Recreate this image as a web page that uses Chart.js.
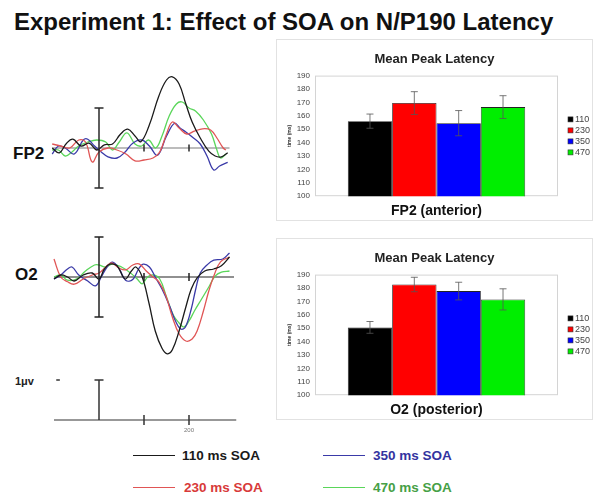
<!DOCTYPE html>
<html>
<head>
<meta charset="utf-8">
<script src="https://cdn.jsdelivr.net/npm/chart.js@4.4.1/dist/chart.umd.min.js"></script>
<style>
  html, body { margin: 0; padding: 0; background: #fff; }
  #page { position: relative; width: 600px; height: 500px; overflow: hidden; font-family: Arial, "Liberation Sans", sans-serif; }
  .abs { position: absolute; }
  .txt { position: absolute; white-space: nowrap; line-height: 1; }
  .panel { position: absolute; border: 1px solid #e2e2e2; box-sizing: border-box; }
  .panel canvas { position: absolute; left: 0; top: 0; }
  .key { position: absolute; height: 0; width: 42px; border-top: 1.5px solid; }
  .keytxt { position: absolute; white-space: nowrap; line-height: 1; font-size: 13.5px; font-weight: bold; }
</style>
</head>
<body>
<div id="page">
  <div class="txt" style="left:14px;top:10px;font-size:24px;font-weight:bold;color:#111">Experiment 1: Effect of SOA on N/P190 Latency</div>

  <div class="txt" style="left:13px;top:145px;font-size:17px;font-weight:bold;color:#111">FP2</div>
  <div class="txt" style="left:15px;top:266px;font-size:17px;font-weight:bold;color:#111">O2</div>
  <div class="txt" style="left:15px;top:376px;font-size:11px;font-weight:bold;color:#222">1μv</div>

  <canvas id="erpFp2" class="abs" style="left:45px;top:68px" width="198" height="140"></canvas>
  <canvas id="erpO2" class="abs" style="left:45px;top:217px" width="198" height="152"></canvas>
  <canvas id="erpScale" class="abs" style="left:45px;top:370px" width="198" height="70"></canvas>

  <div class="panel" style="left:276px;top:39px;width:317px;height:182px">
    <canvas id="barFp2" width="315" height="180"></canvas>
  </div>
  <div class="panel" style="left:276px;top:238px;width:317px;height:182px">
    <canvas id="barO2" width="315" height="180"></canvas>
  </div>

  <div class="key" style="left:133px;top:455px;border-color:#1a1a1a"></div>
  <div class="keytxt" style="left:182px;top:449px;color:#1a1a1a">110 ms SOA</div>
  <div class="key" style="left:323px;top:455px;border-color:#3a3aa8"></div>
  <div class="keytxt" style="left:373px;top:449px;color:#3333a0">350 ms SOA</div>
  <div class="key" style="left:133px;top:487px;border-color:#e05555"></div>
  <div class="keytxt" style="left:184px;top:481px;color:#d83a3a">230 ms SOA</div>
  <div class="key" style="left:323px;top:487px;border-color:#5ad65a"></div>
  <div class="keytxt" style="left:373px;top:481px;color:#46a046">470 ms SOA</div>
</div>

<script>
const soaLabels = ['110', '230', '350', '470'];
const barColors = ['#000000', '#ff0000', '#0000ff', '#00ee00'];
const waveColors = ['#1a1a1a', '#e05555', '#3a3aa8', '#5ad65a'];

// mean peak latency (ms) and error bar half-lengths
const fp2Means = [156, 169.5, 154.5, 166.5];
const fp2Errors = [5.3, 8.5, 9.4, 8.5];
const o2Means = [150.6, 182.6, 177.7, 171.5];
const o2Errors = [4.4, 5.4, 6.6, 7.9];
const latencyTicks = [100, 110, 120, 130, 140, 150, 160, 170, 180, 190];

// ERP waveforms: [time ms, amplitude µV]
const fp2_110 = [[-104, 0.0], [-88, -0.12], [-72, 0.12], [-58, 0.22], [-40, 0.05], [-22, 0.12], [-5, -0.05], [12, 0.08], [30, 0.1], [48, 0.35], [64, 0.47], [80, 0.3], [93, 0.16], [111, 0.55], [133, 1.3], [150, 1.7], [163, 1.78], [178, 1.6], [193, 1.1], [207, 0.65], [225, 0.25], [244, -0.08], [258, -0.2], [272, -0.22], [286, -0.12]];
const fp2_230 = [[-104, 0.1], [-85, 0.05], [-65, 0.0], [-45, 0.2], [-30, 0.15], [-15, -0.35], [0, -0.1], [20, 0.0], [40, -0.05], [60, -0.15], [80, -0.32], [100, -0.3], [120, -0.25], [135, -0.1], [150, 0.35], [163, 0.65], [178, 0.5], [195, 0.35], [212, 0.42], [230, 0.48], [248, 0.45], [262, 0.25], [276, 0.0], [282, -0.05]];
const fp2_350 = [[-104, -0.15], [-90, 0.05], [-75, 0.0], [-55, -0.15], [-35, 0.2], [-25, 0.22], [-10, 0.05], [5, -0.1], [20, -0.22], [40, -0.25], [58, -0.1], [75, 0.12], [95, 0.2], [112, 0.05], [130, -0.18], [150, 0.3], [168, 0.62], [180, 0.5], [193, 0.4], [210, 0.25], [225, 0.1], [240, -0.2], [255, -0.55], [268, -0.45], [286, -0.36]];
const fp2_470 = [[-104, -0.05], [-90, -0.05], [-75, -0.2], [-60, -0.1], [-45, 0.05], [-25, 0.15], [-5, 0.2], [15, 0.15], [30, -0.05], [45, 0.15], [62, 0.38], [80, 0.1], [95, 0.05], [110, 0.2], [126, 0.0], [140, 0.3], [156, 0.8], [172, 1.1], [185, 1.15], [200, 1.0], [215, 0.92], [232, 0.7], [250, 0.35], [262, -0.05], [270, -0.25], [282, -0.15]];

const o2_110 = [[-100, -0.05], [-85, 0.05], [-70, 0.0], [-55, -0.1], [-35, 0.05], [-15, 0.1], [0, -0.05], [12, 0.2], [24, 0.32], [40, 0.28], [58, -0.05], [72, 0.15], [82, 0.25], [96, 0.0], [111, -0.65], [125, -1.35], [140, -1.78], [152, -1.92], [163, -1.82], [178, -1.35], [193, -0.75], [205, -0.3], [218, -0.02], [235, 0.15], [255, 0.2], [272, 0.28], [290, 0.5]];
const o2_230 = [[-100, 0.45], [-85, 0.0], [-70, -0.12], [-55, -0.18], [-35, -0.05], [-15, 0.05], [0, 0.1], [15, 0.25], [28, 0.35], [45, 0.22], [60, 0.18], [75, 0.3], [89, 0.33], [105, 0.15], [120, 0.0], [133, -0.12], [148, -0.45], [163, -1.0], [178, -1.42], [193, -1.6], [207, -1.55], [218, -1.35], [232, -0.85], [244, -0.35], [256, 0.05], [270, 0.38], [290, 0.5]];
const o2_350 = [[-100, -0.05], [-85, 0.05], [-70, 0.2], [-60, 0.25], [-45, 0.05], [-25, -0.1], [-8, -0.22], [5, 0.0], [18, 0.25], [30, 0.37], [45, 0.2], [59, -0.08], [75, -0.06], [88, 0.2], [98, 0.32], [112, 0.25], [125, 0.0], [140, -0.3], [156, -0.7], [170, -1.1], [182, -1.3], [192, -1.25], [205, -0.8], [215, -0.3], [225, 0.1], [240, 0.3], [255, 0.42], [275, 0.45], [290, 0.6]];
const o2_470 = [[-100, 0.0], [-85, 0.05], [-70, -0.08], [-50, -0.05], [-30, 0.15], [-10, 0.3], [0, 0.3], [15, 0.25], [30, 0.32], [50, 0.25], [70, 0.1], [85, -0.05], [96, -0.17], [108, 0.0], [120, 0.05], [135, -0.05], [150, -0.5], [165, -0.95], [178, -1.15], [189, -1.25], [200, -1.1], [212, -0.85], [228, -0.55], [244, -0.25], [258, 0.02], [272, 0.12], [290, 0.15]];

const msTicks = [100, 200];
const labelledTicks = [200];

const FONT = 'Arial, "Liberation Sans", sans-serif';

// baseline, time ticks and the 1 µV calibration bar
const erpFrame = {
    id: 'erpFrame',
    beforeDatasetsDraw(chart, args, o) {
        const { ctx, scales: { x, y } } = chart;
        const y0 = y.getPixelForValue(0);
        ctx.save();
        ctx.strokeStyle = o.baseColor;
        ctx.lineWidth = 1.2;
        ctx.beginPath();
        ctx.moveTo(x.getPixelForValue(o.from), y0);
        ctx.lineTo(x.getPixelForValue(o.to), y0);
        ctx.stroke();
        ctx.restore();
    },
    afterDatasetsDraw(chart, args, o) {
        const { ctx, scales: { x, y } } = chart;
        const y0 = y.getPixelForValue(0);
        ctx.save();
        ctx.strokeStyle = o.barColor;
        ctx.lineWidth = 1.5;
        ctx.beginPath();
        msTicks.forEach((t) => {
            const px = x.getPixelForValue(t);
            ctx.moveTo(px, y0 - o.tickLen);
            ctx.lineTo(px, y0 + o.tickLen);
        });
        const bx = x.getPixelForValue(0);
        const top = y.getPixelForValue(o.barTop);
        const bot = y.getPixelForValue(o.barBottom);
        ctx.moveTo(bx, top);
        ctx.lineTo(bx, bot);
        ctx.moveTo(bx - 4.5, top);
        ctx.lineTo(bx + 4.5, top);
        if (o.capBottom) {
            ctx.moveTo(bx - 4.5, bot);
            ctx.lineTo(bx + 4.5, bot);
        }
        if (o.dash) {
            const dy = y.getPixelForValue(o.barTop);
            ctx.moveTo(x.getPixelForValue(o.dash[0]), dy);
            ctx.lineTo(x.getPixelForValue(o.dash[1]), dy);
        }
        ctx.stroke();
        if (o.showLabels) {
            ctx.fillStyle = '#777';
            ctx.font = '6px ' + FONT;
            ctx.textAlign = 'center';
            ctx.textBaseline = 'top';
            labelledTicks.forEach((t) => ctx.fillText(String(t), x.getPixelForValue(t), y0 + 7));
        }
        ctx.restore();
    }
};

function erpChart(id, waves, yMin, yMax, frame) {
    return new Chart(document.getElementById(id), {
        type: 'line',
        data: {
            datasets: waves.map((w, i) => ({
                label: soaLabels[i],
                data: w.map(([t, v]) => ({ x: t, y: v })),
                borderColor: waveColors[i],
                borderWidth: 1.3,
                pointRadius: 0,
                tension: 0.4,
                fill: false
            }))
        },
        options: {
            responsive: false,
            animation: false,
            devicePixelRatio: 1,
            layout: { padding: 0 },
            plugins: { legend: { display: false }, tooltip: { enabled: false }, erpFrame: frame },
            scales: {
                x: { type: 'linear', min: -120, max: 320, display: false },
                y: { min: yMin, max: yMax, display: false }
            }
        },
        plugins: [erpFrame]
    });
}

erpChart('erpFp2', [fp2_110, fp2_230, fp2_350, fp2_470], -1.5, 2.0,
    { from: -104, to: 290, baseColor: '#7a7a7a', barColor: '#2a2a2a', tickLen: 3.5, barTop: 1, barBottom: -1, capBottom: true });
erpChart('erpO2', [o2_110, o2_230, o2_350, o2_470], -2.3, 1.5,
    { from: -100, to: 300, baseColor: '#222', barColor: '#222', tickLen: 4, barTop: 1, barBottom: -1, capBottom: true });
erpChart('erpScale', [], -0.5, 1.25,
    { from: -100, to: 305, baseColor: '#333', barColor: '#333', tickLen: 5, barTop: 1, barBottom: 0, capBottom: false, dash: [-95, -87], showLabels: true });

// plot frame, error bars and the small legend at the right
const barExtras = {
    id: 'barExtras',
    beforeDatasetsDraw(chart) {
        const { ctx, chartArea: a } = chart;
        ctx.save();
        ctx.strokeStyle = '#d4d4d4';
        ctx.lineWidth = 1;
        ctx.strokeRect(a.left + 0.5, a.top + 0.5, a.width - 1, a.height - 1);
        ctx.restore();
    },
    afterDatasetsDraw(chart, args, o) {
        const { ctx, chartArea: a, scales: { y } } = chart;
        ctx.save();
        ctx.strokeStyle = '#555';
        ctx.lineWidth = 0.8;
        ctx.beginPath();
        chart.data.datasets.forEach((ds, i) => {
            const bar = chart.getDatasetMeta(i).data[0];
            const m = ds.data[0], e = o.errors[i];
            const t = y.getPixelForValue(m + e), b = y.getPixelForValue(m - e);
            ctx.moveTo(bar.x, t); ctx.lineTo(bar.x, b);
            ctx.moveTo(bar.x - 3.5, t); ctx.lineTo(bar.x + 3.5, t);
            ctx.moveTo(bar.x - 3.5, b); ctx.lineTo(bar.x + 3.5, b);
        });
        ctx.stroke();

        const lx = a.right + 10;
        const cy = (a.top + a.bottom) / 2;
        ctx.font = '9px ' + FONT;
        ctx.textBaseline = 'middle';
        chart.data.datasets.forEach((ds, i) => {
            const yy = cy + (i - 1.5) * 11;
            ctx.fillStyle = ds.backgroundColor;
            ctx.fillRect(lx, yy - 2.5, 5, 5);
            ctx.strokeStyle = '#333';
            ctx.lineWidth = 0.6;
            ctx.strokeRect(lx, yy - 2.5, 5, 5);
            ctx.fillStyle = '#444';
            ctx.fillText(ds.label, lx + 7, yy + 0.5);
        });
        ctx.restore();
    }
};

function barChart(id, site, means, errors) {
    return new Chart(document.getElementById(id), {
        type: 'bar',
        data: {
            labels: [site],
            datasets: soaLabels.map((s, i) => ({
                label: s,
                data: [means[i]],
                backgroundColor: barColors[i],
                borderColor: '#222',
                borderWidth: 0.8,
                categoryPercentage: 0.73,
                barPercentage: 1
            }))
        },
        options: {
            responsive: false,
            animation: false,
            devicePixelRatio: 1,
            layout: { padding: 0 },
            plugins: {
                legend: { display: false },
                tooltip: { enabled: false },
                title: {
                    display: true,
                    text: 'Mean Peak Latency',
                    color: '#222',
                    font: { family: FONT, size: 13, weight: 'bold' },
                    padding: { top: 12, bottom: 8 }
                },
                barExtras: { errors }
            },
            scales: {
                x: {
                    grid: { display: false, drawTicks: false },
                    border: { display: false },
                    ticks: { display: false },
                    title: { display: true, text: site, color: '#111', font: { family: FONT, size: 14, weight: 'bold' }, padding: { top: 7, bottom: 0 } }
                },
                y: {
                    min: latencyTicks[0],
                    max: latencyTicks[latencyTicks.length - 1],
                    grid: { display: false, drawTicks: false },
                    border: { display: false },
                    ticks: { stepSize: latencyTicks[1] - latencyTicks[0], color: '#444', padding: 5, font: { family: FONT, size: 8 } },
                    title: { display: true, text: 'time (ms)', color: '#333', font: { family: FONT, size: 5, weight: 'bold' }, padding: { top: 10, bottom: 2 } },
                    afterFit: (s) => { s.width = 38; }
                },
                yR: {
                    position: 'right',
                    grid: { display: false, drawTicks: false },
                    border: { display: false },
                    ticks: { display: false },
                    afterFit: (s) => { s.width = 34; }
                }
            }
        },
        plugins: [barExtras]
    });
}

barChart('barFp2', 'FP2 (anterior)', fp2Means, fp2Errors);
barChart('barO2', 'O2 (posterior)', o2Means, o2Errors);
</script>
</body>
</html>
